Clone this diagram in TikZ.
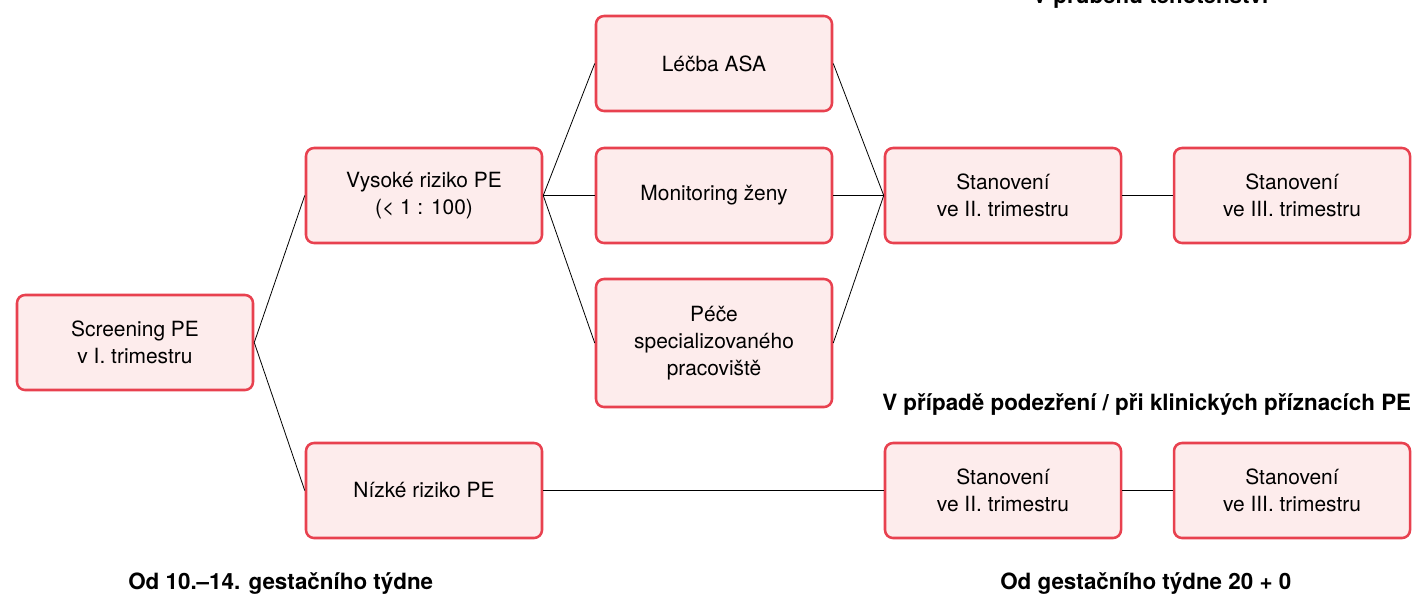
\documentclass[tikz,border=0pt]{standalone}
\usepackage{fontspec}
\setmainfont{TeX Gyre Heros}
\definecolor{boxred}{HTML}{E8414F}
\definecolor{boxfill}{HTML}{FDECEC}
\begin{document}
\begin{tikzpicture}[x=0.75pt,y=-0.75pt,
  box/.style={draw=boxred, fill=boxfill, line width=1.9pt, rounded corners=6pt,
    minimum width=177pt, minimum height=71.25pt, align=center,
    font=\fontsize{15.7}{20.5}\selectfont, inner sep=0pt},
  conn/.style={draw=black, line width=0.6pt},
  lbl/.style={font=\fontsize{16.8}{20}\selectfont\bfseries, inner sep=0pt, anchor=base west}]
\useasboundingbox (0,0) rectangle (1416,594);
\clip (0,0) rectangle (1416,594);
\node[box] (scr) at (135,342.5) {Screening PE\\v I. trimestru};
\node[box] (vys) at (424,195.5) {Vysoké riziko PE\\(< 1 : 100)};
\node[box] (niz) at (424,490.5) {Nízké riziko PE};
\node[box] (asa) at (714,63.5) {Léčba ASA};
\node[box] (mon) at (714,195.5) {Monitoring ženy};
\node[box, minimum height=96pt] (pec) at (714,343) {Péče\\specializovaného\\pracoviště};
\node[box] (s2a) at (1003,195.5) {Stanovení\\ve II. trimestru};
\node[box] (s3a) at (1292,195.5) {Stanovení\\ve III. trimestru};
\node[box] (s2b) at (1003,490.5) {Stanovení\\ve II. trimestru};
\node[box] (s3b) at (1292,490.5) {Stanovení\\ve III. trimestru};
\draw[conn] (scr.east) -- (vys.west);
\draw[conn] (scr.east) -- (niz.west);
\draw[conn] (vys.east) -- (asa.west);
\draw[conn] (vys.east) -- (mon.west);
\draw[conn] (vys.east) -- (pec.west);
\draw[conn] (asa.east) -- (s2a.west);
\draw[conn] (mon.east) -- (s2a.west);
\draw[conn] (pec.east) -- (s2a.west);
\draw[conn] (s2a.east) -- (s3a.west);
\draw[conn] (niz.east) -- (s2b.west);
\draw[conn] (s2b.east) -- (s3b.west);
\node[lbl] (t1) at (1032,3) {V průběhu těhotenství};
\node[lbl] (t2) at (882,410) {V případě podezření / při klinických příznacích PE};
\node[lbl] (t3) at (128,589) {Od 10.–14. gestačního týdne};
\node[lbl] (t4) at (1000,589) {Od gestačního týdne 20 + 0};
\end{tikzpicture}
\end{document}
